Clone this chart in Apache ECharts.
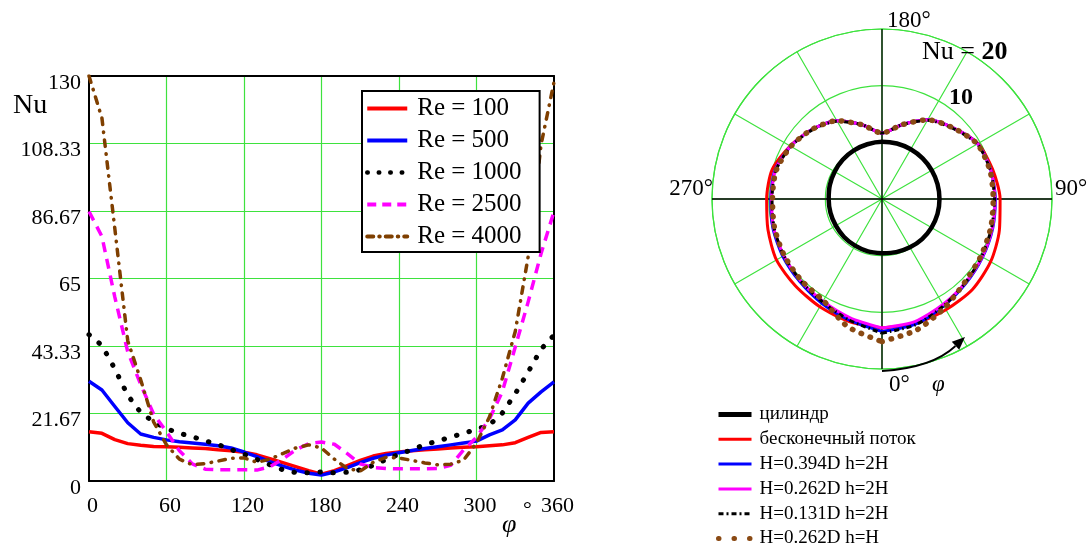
<!DOCTYPE html>
<html><head><meta charset="utf-8">
<script src="https://cdn.jsdelivr.net/npm/echarts@6/dist/echarts.min.js"></script>
<style>html,body{margin:0;padding:0;background:#fff}#c{width:1088px;height:547px}</style>
</head><body><div id="c"></div>
<script>
// ---------- Left chart data (Nu vs phi) ----------
const phiDeg = [0,10,20,30,40,50,60,70,80,90,100,110,120,130,140,150,160,170,180,190,200,210,220,230,240,250,260,270,280,290,300,310,320,330,340,350,360];
const nuRe100  = [15.8,15.3,13.3,12.0,11.5,11.1,11.0,10.8,10.6,10.4,10.0,9.7,9.2,8.4,7.2,5.9,4.6,3.3,2.2,3.3,4.9,6.6,8.0,8.8,9.3,9.7,10.0,10.3,10.6,10.8,11.0,11.3,11.6,12.3,14.0,15.6,15.8];
const nuRe500  = [32,29.2,23.9,18.7,15.1,14.0,13.2,12.6,12.2,11.8,11.3,10.6,9.3,7.8,6.2,4.8,3.5,2.5,1.9,2.9,4.3,5.9,7.3,8.3,9.1,9.8,10.4,11.0,11.6,12.2,12.8,14.8,16.4,19.6,25,28.6,31.8];
const nuRe1000 = [47,43.5,36,27.5,22,19,16.8,15.3,14.2,12.9,11.7,10.1,8.6,6.9,5.2,3.6,2.7,2.6,2.9,2.6,2.8,3.6,5.0,6.9,8.6,10.0,11.7,12.8,14.1,15.3,16.6,18.0,21.8,28,35,42.3,46.8];
const nuRe2500 = [86.5,78.5,59,41.5,31,21.5,15.8,9.7,5.5,3.8,3.6,3.6,3.6,3.5,4.6,7,10,12,12.5,11.8,8.8,5.5,4.3,4.0,3.9,3.9,3.9,4.0,5.0,10,14,19.9,28.7,43,57.5,73,86.5];
const nuRe4000 = [130,116.5,81,45,32.5,19,11.6,7.0,5.2,5.6,6.4,7.3,7.4,6.0,7.0,8.8,10.6,11.6,10.6,7.0,4.0,3.2,6.0,7.6,7.4,6.6,5.8,5.2,5.4,6.7,12.2,20.5,33,48,72,108,128];
const reNames = ['Re = 100','Re = 500','Re = 1000','Re = 2500','Re = 4000'];
const xTicks = [0,60,120,180,240,300,360];
const yTickLabels = ['0','21.67','43.33','65','86.67','108.33','130'];

// ---------- Right chart data (polar, Nu vs phi) ----------
const polarAngles = [0,15,30,45,60,75,90,105,120,135,150,165,180,195,210,225,240,255,270,285,300,315,330,345,360];
const nuCylinder = [4.86,4.9,4.95,5.0,5.03,5.05,5.05,5.05,5.05,5.05,5.05,5.05,5.04,5.0,4.97,4.93,4.88,4.84,4.8,4.8,4.8,4.82,4.83,4.85,4.86];
const nuInfinite = [12.1,12.1,11.95,11.95,11.6,11.05,10.6,10.15,9.7,8.55,7.65,6.4,5.6,6.4,7.55,8.35,9.15,10.05,10.25,10.6,11.1,11.2,11.45,11.8,12.1];
const nuH394 = [12.65,12.2,11.3,10.7,10.35,10.15,10.0,9.9,9.65,8.55,7.65,6.4,5.6,6.4,7.55,8.35,9.1,9.7,9.75,9.95,10.15,10.4,10.9,11.6,12.65];
const nuH262 = [12.1,11.8,11.1,10.6,10.3,10.1,9.95,9.9,9.65,8.55,7.65,6.4,5.6,6.4,7.55,8.35,9.1,9.65,9.65,9.85,10.0,10.25,10.6,11.25,12.1];
const nuH131 = [12.9,12.3,11.3,10.6,10.2,10.0,9.9,9.85,9.6,8.5,7.6,6.4,5.6,6.4,7.5,8.3,9.05,9.6,9.6,9.8,10.0,10.25,10.7,11.6,12.9];
const nuH262hH = [14.3,13.1,11.6,10.5,10.1,9.9,9.75,9.8,9.6,8.55,7.65,6.4,5.6,6.4,7.55,8.35,9.05,9.55,9.55,9.75,9.95,10.15,10.5,12.6,14.3];
const polarNames = ['цилиндр','бесконечный поток','H=0.394D h=2H','H=0.262D h=2H','H=0.131D h=2H','H=0.262D h=H'];
const ringLevels = [5,10,20];

const GREEN = '#3ee23e';
const FONT = "'Liberation Serif','Times New Roman',serif";

const leftDefs = [
  {values:nuRe100,  color:'#ff0000', width:3.5, type:'solid', cap:'butt', lw:4, ltype:'solid'},
  {values:nuRe500,  color:'#0000ff', width:3.5, type:'solid', cap:'butt', lw:4, ltype:'solid'},
  {values:nuRe1000, color:'#000000', width:5,   type:[0.5,12.5], cap:'round', lw:4.5, ltype:[0.5,11]},
  {values:nuRe2500, color:'#ff00ff', width:3.5, type:[10,7], cap:'butt', lw:4, ltype:[9,6]},
  {values:nuRe4000, color:'#7f3f00', width:3.5, type:[6.5,7.5,0.5,7.5], cap:'round', lw:4, ltype:[6,6,0.5,6]}
];
const polarDefs = [
  {values:nuCylinder, color:'#000000', width:4.5, type:'solid', cap:'butt', lw:5, ltype:'solid'},
  {values:nuInfinite, color:'#ff0000', width:3,   type:'solid', cap:'butt', lw:3, ltype:'solid'},
  {values:nuH394,     color:'#0000ff', width:3,   type:'solid', cap:'butt', lw:3, ltype:'solid'},
  {values:nuH262,     color:'#ff00ff', width:3,   type:'solid', cap:'butt', lw:3, ltype:'solid'},
  {values:nuH131,     color:'#000000', width:3,   type:[5,3,1.5,3], cap:'butt', lw:3, ltype:[5,3,2,3]},
  {values:nuH262hH,   color:'#8a4a14', width:5.5, type:[0.5,9], cap:'round', lw:5, ltype:[0.5,15]}
];

const series = [];
leftDefs.forEach((d,i)=>{
  series.push({
    type:'line', name:reNames[i], xAxisIndex:0, yAxisIndex:0,
    data: phiDeg.map((p,k)=>[p,d.values[k]]),
    symbol:'none', smooth:false, z:3,
    lineStyle:{color:d.color, width:d.width, type:d.type, cap:d.cap, join:'round'},
    itemStyle:{color:d.color}
  });
});
polarDefs.forEach((d,i)=>{
  series.push({
    type:'line', name:polarNames[i], coordinateSystem:'polar', polarIndex:0,
    data: polarAngles.map((a,k)=>[d.values[k], a]),
    symbol:'none', smooth:0.25, z:3,
    lineStyle:{color:d.color, width:d.width, type:d.type, cap:d.cap, join:'round'},
    itemStyle:{color:d.color}
  });
});

const chart = echarts.init(document.getElementById('c'));
const txt = (text, x, y, size, extra) => Object.assign({
  type:'text', z:10,
  style:Object.assign({text, x, y, font:`${size}px ${FONT}`, fill:'#000', textAlign:'left', textVerticalAlign:'middle'}, extra||{})
});

chart.setOption({
  animation:false,
  textStyle:{fontFamily:FONT},
  grid:{left:89, right:534, top:76, bottom:66, show:false},
  xAxis:[
    {type:'value', min:0, max:360, interval:60, position:'bottom',
     axisLine:{show:true, onZero:false, lineStyle:{color:'#000', width:2}},
     axisTick:{show:false},
     axisLabel:{color:'#000', fontSize:22, fontFamily:FONT, margin:14, padding:[0,0,0,7],
       formatter:v=> xTicks.indexOf(v)>=0 ? String(v) : ''},
     splitLine:{show:true, showMinLine:false, showMaxLine:false, lineStyle:{color:GREEN, width:1.2}}},
    {type:'value', min:0, max:360, position:'top',
     axisLine:{show:true, onZero:false, lineStyle:{color:'#000', width:2}},
     axisTick:{show:false}, axisLabel:{show:false}, splitLine:{show:false}}
  ],
  yAxis:[
    {type:'value', min:0, max:130, interval:130/6, position:'left',
     axisLine:{show:true, onZero:false, lineStyle:{color:'#000', width:2}},
     axisTick:{show:false},
     axisLabel:{color:'#000', fontSize:22, fontFamily:FONT, margin:8, verticalAlign:'top', lineHeight:14,
       formatter:v=> yTickLabels.find(t=>Math.abs(+t - v) < 0.01) || ''},
     splitLine:{show:true, showMinLine:false, showMaxLine:false, lineStyle:{color:GREEN, width:1.2}}},
    {type:'value', min:0, max:130, position:'right',
     axisLine:{show:true, onZero:false, lineStyle:{color:'#000', width:2}},
     axisTick:{show:false}, axisLabel:{show:false}, splitLine:{show:false}}
  ],
  polar:[
    {center:[882,199], radius:170},
    {center:[882,199], radius:170}
  ],
  angleAxis:[
    {polarIndex:0, type:'value', min:0, max:360, interval:90, startAngle:270, clockwise:false, z:2,
     axisLine:{show:false}, axisTick:{show:false}, axisLabel:{show:false},
     splitLine:{show:true, lineStyle:{color:'#000', width:1.3}}},
    {polarIndex:1, type:'value', min:0, max:360, interval:30, startAngle:270, clockwise:false, z:1,
     axisLine:{show:true, lineStyle:{color:GREEN, width:1.2}}, axisTick:{show:false}, axisLabel:{show:false},
     splitLine:{show:true, lineStyle:{color:GREEN, width:1.2}}}
  ],
  radiusAxis:[
    {polarIndex:0, type:'log', logBase:2, min:2.5, max:20, z:2,
     axisLine:{show:false}, axisTick:{show:false}, axisLabel:{show:false}, splitLine:{show:false}},
    {polarIndex:1, type:'log', logBase:2, min:2.5, max:20, z:1,
     axisLine:{show:false}, axisTick:{show:false}, axisLabel:{show:false}, splitLine:{show:false}}
  ],
  legend:[
    {data:reNames.map((n,i)=>({name:n, lineStyle:{width:leftDefs[i].lw, type:leftDefs[i].ltype, cap:leftDefs[i].cap}})),
     orient:'vertical', left:362, top:91, padding:[5,18,3,3], itemGap:7,
     itemWidth:40, itemHeight:16, backgroundColor:'#fff', borderColor:'#000', borderWidth:2,
     itemStyle:{opacity:0},
     textStyle:{fontSize:25, color:'#000', fontFamily:FONT, padding:[0,0,0,5]}},
    {data:polarNames.map((n,i)=>({name:n, lineStyle:{width:polarDefs[i].lw, type:polarDefs[i].ltype, cap:polarDefs[i].cap}})),
     orient:'vertical', left:716, top:405, height:170, padding:0, itemGap:5.8,
     itemWidth:33, itemHeight:14, itemStyle:{opacity:0},
     textStyle:{fontSize:19, color:'#000', fontFamily:FONT, padding:[0,0,0,3]}}
  ],
  series:series,
  graphic:[
    txt('Nu', 13, 106, 28),
    txt('φ', 502, 525, 26, {font:`italic 26px ${FONT}`}),
    txt('°', 523, 510, 22),
    txt('180°', 887, 21, 23),
    txt('90°', 1055, 189, 23),
    txt('270°', 713, 189, 23, {textAlign:'right'}),
    txt('0°', 889, 385, 23),
    txt('φ', 932, 385, 23, {font:`italic 23px ${FONT}`}),
    {type:'text', z:10, style:{x:922, y:52, textVerticalAlign:'middle', fill:'#000',
      rich:{n:{font:`26px ${FONT}`}, b:{font:`bold 26px ${FONT}`}}, text:'{n|Nu = }{b|20}'}},
    txt('10', 949, 98, 24, {font:`bold 24px ${FONT}`}),
    {type:'bezierCurve', z:10, shape:{x1:882,y1:371,x2:955.5,y2:346,cpx1:932,cpy1:368},
     style:{stroke:'#000', lineWidth:1.8, fill:null}},
    {type:'polygon', z:10, shape:{points:[[965,337],[951.8,341.8],[959.2,349.8]]}, style:{fill:'#000'}}
  ]
});

// rings of the polar grid at Nu = 5, 10, 20 through the log radius scale
const ringGraphics = ringLevels.map(v=>{
  const p = chart.convertToPixel({polarIndex:0},[v,0]);
  const r = Math.abs(p[1]-199);
  return {type:'circle', z:0, shape:{cx:882, cy:199, r:r}, style:{stroke:GREEN, lineWidth:1.2, fill:null}, silent:true};
});
chart.setOption({graphic: chart.getOption().graphic[0].elements.concat(ringGraphics)});
</script></body></html>
